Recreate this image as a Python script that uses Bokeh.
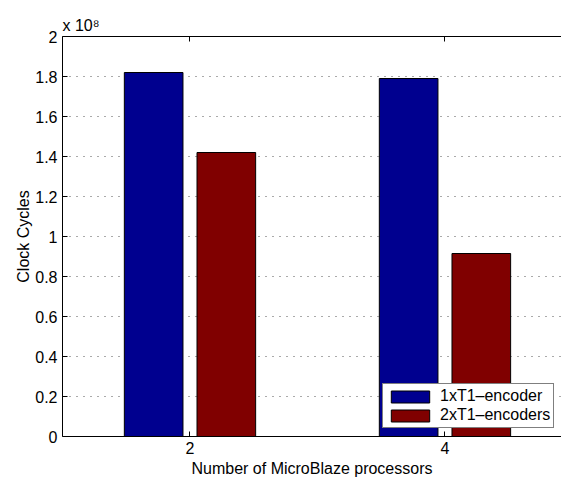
from bokeh.plotting import figure
from bokeh.models import (Range1d, FixedTicker, LinearAxis, Legend, LegendItem,
                          CustomJSTickFormatter, ColumnDataSource)
from bokeh.transform import dodge
from bokeh.embed import file_html
from bokeh.resources import INLINE

# ---- data ----
processors = [2, 4]
one_encoder = [1.82e8, 1.79e8]
two_encoders = [1.42e8, 0.915e8]
scale = 1e8
y_ticks = [0, 0.2, 0.4, 0.6, 0.8, 1.0, 1.2, 1.4, 1.6, 1.8, 2.0]
series_names = ["1xT1\u2013encoder", "2xT1\u2013encoders"]
x_label = "Number of MicroBlaze processors"
y_label = "Clock Cycles"
exponent_label = "x 10\u2078"

FONT = "Liberation Sans"
FS = "16px"

src = ColumnDataSource(dict(
    x=processors,
    a=[v / scale for v in one_encoder],
    b=[v / scale for v in two_encoders],
))

p = figure(width=561, height=480, output_backend="svg", toolbar_location=None,
           x_range=Range1d(1, 4.914), y_range=Range1d(0, 2),
           min_border_left=62, min_border_right=0, min_border_top=36, min_border_bottom=44)
p.outline_line_color = None
p.background_fill_color = "white"

r1 = p.vbar(x=dodge("x", -0.285), top="a", width=0.46, source=src,
            fill_color="#00008F", line_color="black", line_width=1)
r2 = p.vbar(x=dodge("x", 0.285), top="b", width=0.46, source=src,
            fill_color="#800000", line_color="black", line_width=1)

# x axis
xa = p.xaxis[0]
xa.ticker = FixedTicker(ticks=processors)
xa.major_tick_in = 5
xa.major_tick_out = 0
xa.minor_tick_line_color = None
xa.major_label_standoff = 5
xa.major_label_text_font = FONT
xa.major_label_text_font_size = FS
xa.major_label_text_color = "black"
xa.axis_label = x_label
xa.axis_label_text_font = FONT
xa.axis_label_text_font_size = FS
xa.axis_label_text_font_style = "normal"
xa.axis_label_text_color = "black"
xa.axis_label_standoff = 3
xa.axis_line_color = "black"

# y axis
ya = p.yaxis[0]
ya.ticker = FixedTicker(ticks=y_ticks)
ya.formatter = CustomJSTickFormatter(code="return String(Math.round(tick*10)/10);")
ya.major_tick_in = 5
ya.major_tick_out = 0
ya.minor_tick_line_color = None
ya.major_label_standoff = 5
ya.major_label_text_font = FONT
ya.major_label_text_font_size = FS
ya.major_label_text_color = "black"
ya.axis_label = y_label
ya.axis_label_text_font = FONT
ya.axis_label_text_font_size = FS
ya.axis_label_text_font_style = "normal"
ya.axis_label_text_color = "black"
ya.axis_label_standoff = 0
ya.axis_line_color = "black"

# top border axis (ticks only)
top = LinearAxis(ticker=FixedTicker(ticks=processors), major_tick_in=5, major_tick_out=0,
                 minor_tick_line_color=None, major_label_text_alpha=0,
                 major_label_text_font_size="1px",
                 axis_line_color="black", major_label_standoff=0)
p.add_layout(top, "above")

# exponent as title
p.title.text = exponent_label
p.title.align = "left"
p.title.text_font = FONT
p.title.text_font_size = FS
p.title.text_font_style = "normal"
p.title.text_color = "black"
p.title.standoff = 6

p.xgrid.visible = False
p.ygrid.grid_line_color = "#555555"
p.ygrid.grid_line_dash = "1 6"
p.ygrid.grid_line_width = 1

legend = Legend(items=[LegendItem(label=series_names[0], renderers=[r1]),
                       LegendItem(label=series_names[1], renderers=[r2])],
                location=(320, 8), margin=0, padding=3, spacing=1,
                glyph_width=48, glyph_height=15, label_height=15, label_standoff=6,
                label_text_font=FONT, label_text_font_size=FS, label_text_color="black",
                border_line_color="black", border_line_width=1,
                background_fill_color="white", background_fill_alpha=1)
p.add_layout(legend, "center")

open("out.html", "w").write(file_html(p, INLINE))
